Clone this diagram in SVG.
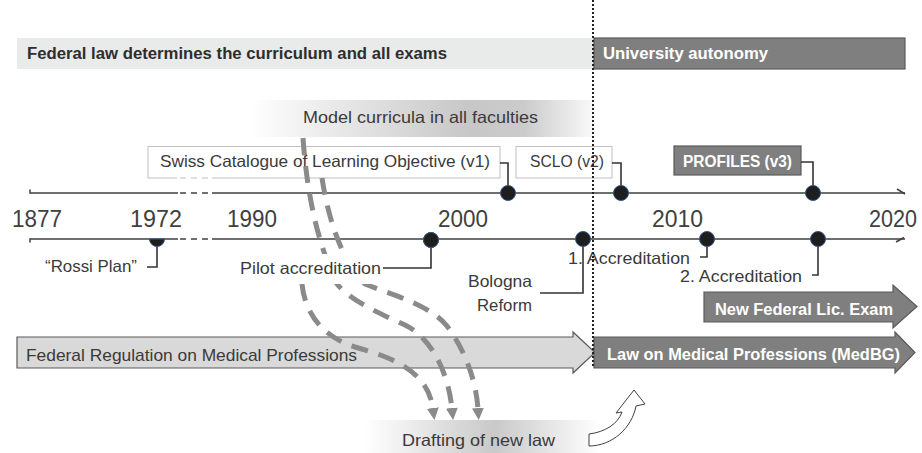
<svg xmlns="http://www.w3.org/2000/svg" width="922" height="453" viewBox="0 0 922 453">
<style>
text{font-family:"Liberation Sans",Arial,sans-serif;fill:#3a3a3a}
.b{font-weight:bold;fill:#fff}
.bd{font-weight:bold;fill:#2e2e2e}
.lab{font-size:16.5px}
.yr{font-size:23.5px;fill:#404040}
.tl{stroke:#404040;stroke-width:1.5;fill:none}
.con{stroke:#333;stroke-width:1.6;fill:none}
.dot{fill:#1e1e1e;stroke:#34548a;stroke-width:1}
.dark{fill:#7f7f7f;stroke:#5a5a5a;stroke-width:1.2}
.cur{fill:none;stroke:#8a8a8a;stroke-width:5;stroke-dasharray:17 11}
</style>
<defs>
<linearGradient id="gModel" gradientUnits="userSpaceOnUse" x1="250" y1="0" x2="602" y2="0">
<stop offset="0" stop-color="#fff"/>
<stop offset="0.62" stop-color="#c7c7c7"/>
<stop offset="0.78" stop-color="#cbcbcb"/>
<stop offset="1" stop-color="#fff"/>
</linearGradient>
<linearGradient id="gDraft" gradientUnits="userSpaceOnUse" x1="365" y1="0" x2="600" y2="0">
<stop offset="0" stop-color="#fff"/>
<stop offset="0.55" stop-color="#c9c9c9"/>
<stop offset="1" stop-color="#fff"/>
</linearGradient>
<marker id="ah" markerUnits="userSpaceOnUse" viewBox="0 0 12 12" markerWidth="12" markerHeight="12" refX="1" refY="6" orient="auto">
<path d="M0,0 L12,6 L0,12 Z" fill="#8a8a8a"/>
</marker>
</defs>

<!-- bands -->
<g id="band-federal-law">
<rect x="17" y="38" width="577" height="31" fill="#e9eaea"/>
<text class="bd" x="27" y="59" font-size="16" textLength="420" lengthAdjust="spacingAndGlyphs">Federal law determines the curriculum and all exams</text>
</g>
<g id="band-autonomy">
<rect class="dark" x="594" y="38" width="311" height="31"/>
<text class="b" x="603" y="59" font-size="16" textLength="165" lengthAdjust="spacingAndGlyphs">University autonomy</text>
</g>
<g id="model-curricula">
<rect x="250" y="100" width="352" height="37" fill="url(#gModel)"/>
<text class="lab" x="303" y="123" textLength="235" lengthAdjust="spacingAndGlyphs">Model curricula in all faculties</text>
</g>

<!-- boxes above timeline -->
<g id="scl-v1">
<rect x="148" y="146.5" width="352" height="31.5" fill="#fff" stroke="#bfbfbf" stroke-width="1"/>
<text class="lab" x="160" y="167" textLength="330" lengthAdjust="spacingAndGlyphs">Swiss Catalogue of Learning Objective (v1)</text>
</g>
<g id="sclo-v2">
<rect x="516" y="146.5" width="96" height="31.5" fill="#fff" stroke="#bfbfbf" stroke-width="1"/>
<text class="lab" x="530" y="167" textLength="74" lengthAdjust="spacingAndGlyphs">SCLO (v2)</text>
</g>
<g id="profiles-v3">
<rect class="dark" x="674" y="146" width="127" height="29"/>
<text class="b" x="683" y="167" font-size="16" textLength="109" lengthAdjust="spacingAndGlyphs">PROFILES (v3)</text>
</g>

<!-- timelines -->
<g id="timeline-upper">
<path class="tl" d="M30,189.5 V193 H178 M212,193 H905"/>
<path class="tl" d="M897,189 L905,194"/>
</g>
<g id="timeline-lower">
<path class="tl" d="M30,242.5 V239 H178 M212,239 H905"/>
<path class="tl" d="M896,242 L904,237.5"/>
</g>
<g id="timeline-break">
<rect x="177" y="176" width="35" height="5" fill="#fff"/>
<path d="M180,178 H208" stroke="#bfbfbf" stroke-width="1" stroke-dasharray="6 5" fill="none"/>
<path d="M180,193 H208 M180,239 H208" class="tl" stroke-dasharray="6 5"/>
</g>

<!-- years -->
<g id="years">
<text class="yr" x="12" y="227" textLength="50" lengthAdjust="spacingAndGlyphs">1877</text>
<text class="yr" x="130" y="227" textLength="52" lengthAdjust="spacingAndGlyphs">1972</text>
<text class="yr" x="227" y="227" textLength="50" lengthAdjust="spacingAndGlyphs">1990</text>
<text class="yr" x="438" y="227" textLength="50" lengthAdjust="spacingAndGlyphs">2000</text>
<text class="yr" x="652" y="227" textLength="51" lengthAdjust="spacingAndGlyphs">2010</text>
<text class="yr" x="869" y="227" textLength="48" lengthAdjust="spacingAndGlyphs">2020</text>
</g>

<!-- connectors from boxes to upper dots -->
<g id="connectors">
<path class="con" d="M500,163 H508 V193"/>
<path class="con" d="M612,163 H621 V193"/>
<path class="con" d="M801,162 H813 V193"/>
<path class="con" d="M157,239 V267 H147"/>
<path class="con" d="M583,239 V293 H540"/>
<path class="con" d="M707,239 V257 H700"/>
<path class="con" d="M818,239 V275 H812"/>
</g>

<!-- dots -->
<g id="dots-upper">
<circle class="dot" cx="508" cy="193" r="7.5"/>
<circle class="dot" cx="621" cy="193" r="7.5"/>
<circle class="dot" cx="813" cy="193" r="7.5"/>
</g>
<g id="dot-rossi">
<path class="dot" d="M149.5,239 A7.5,7.5 0 0 0 164.5,239 Z"/>
<text class="lab" x="45" y="272" textLength="92" lengthAdjust="spacingAndGlyphs">“Rossi Plan”</text>
</g>
<g id="dots-lower">
<circle class="dot" cx="431" cy="240" r="7.5"/>
<circle class="dot" cx="583" cy="239" r="7.5"/>
<circle class="dot" cx="707" cy="239" r="7.5"/>
<circle class="dot" cx="818" cy="239" r="7.5"/>
</g>
<g id="bologna">
<text class="lab" x="468" y="287" textLength="64" lengthAdjust="spacingAndGlyphs">Bologna</text>
<text class="lab" x="477" y="311" textLength="55" lengthAdjust="spacingAndGlyphs">Reform</text>
</g>
<g id="accreditation-1">
<text class="lab" x="568" y="264" textLength="122" lengthAdjust="spacingAndGlyphs">1. Accreditation</text>
</g>
<g id="accreditation-2">
<text class="lab" x="680" y="282" textLength="122" lengthAdjust="spacingAndGlyphs">2. Accreditation</text>
</g>

<!-- big arrows -->
<g id="new-lic-exam">
<path class="dark" d="M704,292 H893 V285 L917,306.5 L893,328 V322 H704 Z"/>
<text class="b" x="715" y="315" font-size="16" textLength="178" lengthAdjust="spacingAndGlyphs">New Federal Lic. Exam</text>
</g>
<g id="federal-regulation">
<path d="M17,337 H573 V332 L595,352.5 L573,373 V368 H17 Z" fill="#d9d9d9" stroke="#5a5a5a" stroke-width="1.2"/>
<text x="26" y="361" font-size="17" textLength="331" lengthAdjust="spacingAndGlyphs">Federal Regulation on Medical Professions</text>
</g>
<g id="medbg">
<path class="dark" d="M594,337 H895 V332 L915,352.5 L895,373 V368 H594 Z"/>
<text class="b" x="607" y="360" font-size="17" textLength="293" lengthAdjust="spacingAndGlyphs">Law on Medical Professions (MedBG)</text>
</g>

<g id="drafting">
<rect x="365" y="420" width="235" height="33" fill="url(#gDraft)"/>
<text class="lab" x="402" y="446" textLength="153" lengthAdjust="spacingAndGlyphs">Drafting of new law</text>
</g>

<!-- dashed curves -->
<g id="curves">
<path class="cur" marker-end="url(#ah)" d="M303,138 C307,195 318,245 337,284 C350,300 380,314 405,325 C430,337 448,370 452,409"/>
<path class="cur" marker-end="url(#ah)" d="M322,178 C328,218 342,262 365,284 C395,296 430,305 447,326 C465,350 476,380 478,409"/>
<path class="cur" marker-end="url(#ah)" d="M302,284 C305,315 325,338 355,347 C395,358 428,372 433,409"/>
</g>

<g id="pilot">
<rect x="236" y="254" width="148" height="30" fill="#fff"/>
<text class="lab" x="240" y="274" textLength="141" lengthAdjust="spacingAndGlyphs">Pilot accreditation</text>
<path class="con" d="M431,240 V268 H383"/>
<circle class="dot" cx="431" cy="240" r="7.5"/>
</g>

<g id="curved-arrow">
<path d="M589,434 C605,432 618,424 622,412 L616,413 L634,390 L645,404 L636,406 C632,428 612,446 589,446 Z" fill="#fff" stroke="#404040" stroke-width="1"/>
</g>

<g id="divider">
<line x1="593" y1="0" x2="593" y2="368" stroke="#222" stroke-width="2" stroke-dasharray="2 2"/>
</g>
</svg>
